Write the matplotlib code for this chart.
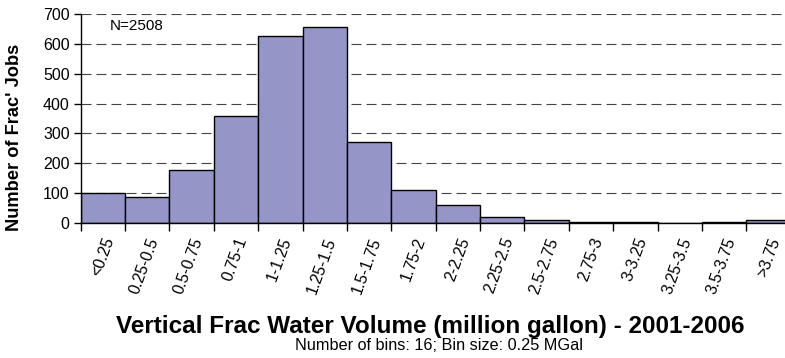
import matplotlib
matplotlib.use("Agg")
import matplotlib.pyplot as plt
import numpy as np

plt.rcParams['font.family'] = ['Liberation Sans', 'DejaVu Sans']

# Histogram of frac water volume per job (bins of 0.25 million gallons)
bin_labels = ["<0.25", "0.25-0.5", "0.5-0.75", "0.75-1", "1-1.25", "1.25-1.5",
              "1.5-1.75", "1.75-2", "2-2.25", "2.25-2.5", "2.5-2.75", "2.75-3",
              "3-3.25", "3.25-3.5", "3.5-3.75", ">3.75"]
job_counts = [102, 87, 177, 359, 627, 658, 271, 112, 60, 19, 11, 4, 4, 0, 4, 11]
yticks = [0, 100, 200, 300, 400, 500, 600, 700]

W, H = 785, 358
fig = plt.figure(figsize=(W / 100, H / 100), dpi=100)
ax = fig.add_axes([80.7 / W, 1 - 223 / H, 710 / W, 209 / H])

x = np.arange(len(job_counts))
ax.bar(x, job_counts, width=1.0, align='edge', color='#9595C8',
       edgecolor='black', linewidth=1.0, zorder=3)

ax.set_xlim(0, len(job_counts))
ax.set_ylim(0, 700)
ax.set_yticks(yticks)
ax.set_yticklabels([str(v) for v in yticks], fontsize=11.5)
for v in yticks[1:]:
    ax.axhline(v, color='#444444', linewidth=0.8, linestyle=(0, (9, 4.5)), zorder=1)

# bin edges carry the tick marks, bin centres carry the labels
ax.set_xticks(np.arange(len(job_counts) + 1))
ax.set_xticklabels([])
ax.set_xticks(x + 0.5, minor=True)
ax.set_xticklabels(bin_labels, minor=True, rotation=70, ha='right',
                   rotation_mode='anchor', fontsize=11.5)
ax.tick_params(axis='x', which='major', length=6, width=1, direction='out')
ax.tick_params(axis='x', which='minor', length=0, pad=9)
ax.tick_params(axis='y', length=5, width=1, direction='out', pad=3)

for s in ['top', 'right']:
    ax.spines[s].set_visible(False)
for s in ['left', 'bottom']:
    ax.spines[s].set_linewidth(1)
    ax.spines[s].set_zorder(4)

n_txt = ax.text(0.65, 660, "N=2508", fontsize=11, va='center', ha='left')

ylab = fig.text(15 / W, 1 - 137 / H, "Number of Frac' Jobs", fontsize=13,
                fontweight='bold', rotation=90, ha='center', va='center')
title = fig.text(430.5 / W, 1 - 326 / H,
                 "Vertical Frac Water Volume (million gallon) - 2001-2006",
                 fontsize=13, fontweight='bold', ha='center', va='center')
sub = fig.text(439 / W, 1 - 346 / H, "Number of bins: 16; Bin size: 0.25 MGal",
               fontsize=10.5, ha='center', va='center')

# size the free-standing texts to their intended pixel extents
renderer = fig.canvas.get_renderer()
for t, target, use_height in [(title, 629, False), (sub, 288, False),
                              (ylab, 187, True), (n_txt, 54, False)]:
    for _ in range(3):
        bb = t.get_window_extent(renderer)
        cur = bb.height if use_height else bb.width
        t.set_fontsize(t.get_fontsize() * target / cur)

fig.savefig("out.png", dpi=100)
